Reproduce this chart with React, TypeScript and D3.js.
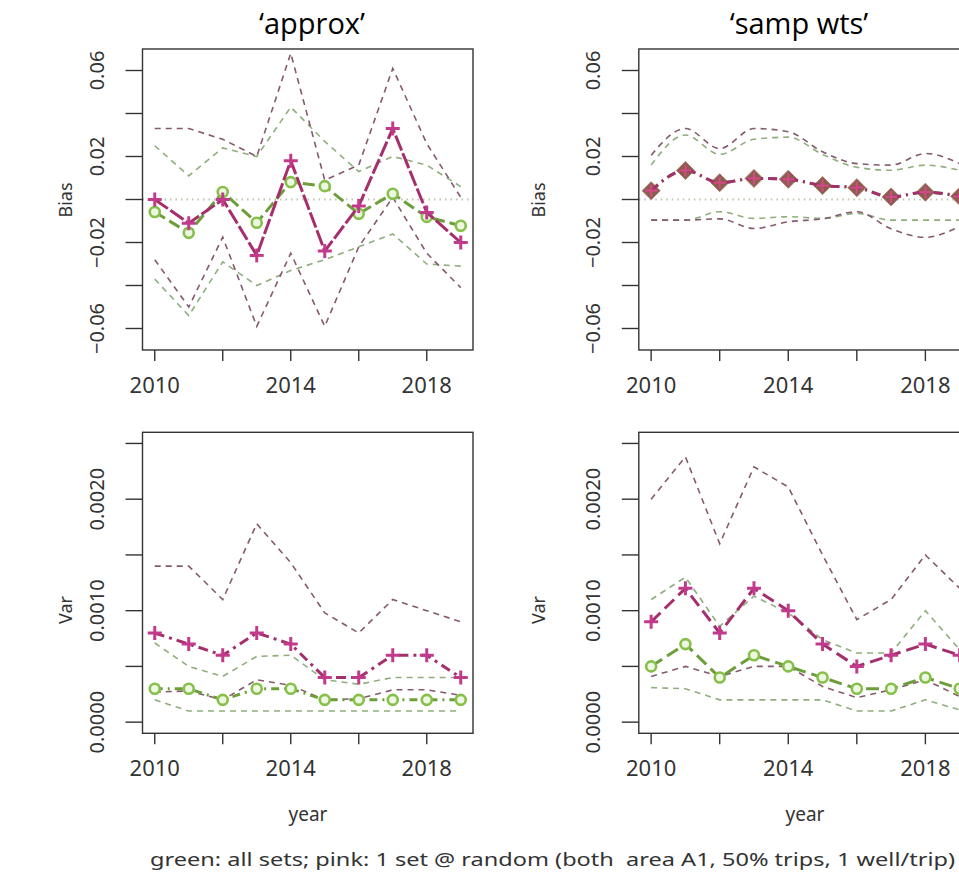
import React from "react";
import * as d3 from "d3";

// ---------- data ----------
const years = [2010, 2011, 2012, 2013, 2014, 2015, 2016, 2017, 2018, 2019];
const xTickYears = [2010, 2012, 2014, 2016, 2018];
const xLabelYears = [2010, 2014, 2018];

const biasTicks = [-0.06, -0.04, -0.02, 0, 0.02, 0.04, 0.06];
const biasLabels = [-0.06, -0.02, 0.02, 0.06];
const varTicks = [0, 0.0005, 0.001, 0.0015, 0.002, 0.0025];
const varLabels = [0, 0.001, 0.002];

const panelTitles = ["\u2018approx\u2019", "\u2018samp wts\u2019"];
const caption = "green: all sets; pink: 1 set @ random (both  area A1, 50% trips, 1 well/trip)";

// Bias, 'approx'
const biasApproxPink = [0.0, -0.011, 0.0, -0.026, 0.018, -0.024, -0.003, 0.033, -0.006, -0.02];
const biasApproxGreen = [-0.0058, -0.0155, 0.0035, -0.0108, 0.0081, 0.0062, -0.0066, 0.0027, -0.0081, -0.0122];
const biasApproxPinkHi = [0.033, 0.033, 0.028, 0.02, 0.068, 0.009, 0.016, 0.061, 0.026, 0.001];
const biasApproxPinkLo = [-0.028, -0.05, -0.0175, -0.059, -0.025, -0.059, -0.022, 0.001, -0.025, -0.041];
const biasApproxGreenHi = [0.025, 0.011, 0.024, 0.02, 0.043, 0.027, 0.013, 0.02, 0.016, 0.006];
const biasApproxGreenLo = [-0.037, -0.054, -0.029, -0.04, -0.033, -0.028, -0.022, -0.016, -0.03, -0.031];

// Bias, 'samp wts'
const biasWtsPink = [0.0041, 0.0135, 0.0078, 0.0098, 0.0094, 0.0065, 0.0055, 0.0012, 0.0034, 0.0015];
const biasWtsGreen = [0.0041, 0.0135, 0.0078, 0.0098, 0.0094, 0.0065, 0.0055, 0.0012, 0.0034, 0.0015];
const biasWtsPinkHi = [0.0206, 0.033, 0.0237, 0.033, 0.0315, 0.0222, 0.0167, 0.016, 0.0214, 0.0167];
const biasWtsPinkLo = [-0.0096, -0.0096, -0.009, -0.0135, -0.0104, -0.009, -0.0057, -0.0136, -0.0176, -0.0125];
const biasWtsGreenHi = [0.016, 0.03, 0.021, 0.028, 0.029, 0.021, 0.015, 0.0136, 0.016, 0.0136];
const biasWtsGreenLo = [-0.0096, -0.0096, -0.0057, -0.0088, -0.008, -0.0088, -0.0065, -0.0096, -0.0096, -0.0096];

// Var, 'approx'
const varApproxPink = [0.0008, 0.0007, 0.0006, 0.0008, 0.0007, 0.0004, 0.0004, 0.0006, 0.0006, 0.0004];
const varApproxGreen = [0.0003, 0.0003, 0.0002, 0.0003, 0.0003, 0.0002, 0.0002, 0.0002, 0.0002, 0.0002];
const varApproxPinkHi = [0.0014, 0.0014, 0.0011, 0.00178, 0.00143, 0.00098, 0.0008, 0.0011, 0.001, 0.0009];
const varApproxPinkLo = [0.00027, 0.00028, 0.0002, 0.00038, 0.00033, 0.0002, 0.00021, 0.00029, 0.00029, 0.00024];
const varApproxGreenHi = [0.00071, 0.0005, 0.00041, 0.00059, 0.0006, 0.00038, 0.00034, 0.0004, 0.0004, 0.0004];
const varApproxGreenLo = [0.0002, 0.0001, 0.0001, 0.0001, 0.0001, 0.0001, 0.0001, 0.0001, 0.0001, 0.0001];

// Var, 'samp wts'
const varWtsPink = [0.0009, 0.0012, 0.0008, 0.0012, 0.001, 0.0007, 0.0005, 0.0006, 0.0007, 0.0006];
const varWtsGreen = [0.0005, 0.0007, 0.0004, 0.0006, 0.0005, 0.0004, 0.0003, 0.0003, 0.0004, 0.0003];
const varWtsPinkHi = [0.002, 0.00238, 0.0016, 0.00229, 0.00211, 0.0015, 0.00092, 0.0011, 0.0015, 0.0012];
const varWtsPinkLo = [0.00041, 0.0005, 0.00041, 0.0005, 0.0005, 0.00032, 0.00022, 0.00029, 0.00038, 0.00023];
const varWtsGreenHi = [0.0011, 0.0013, 0.00086, 0.00113, 0.00098, 0.00074, 0.00062, 0.00062, 0.001, 0.00065];
const varWtsGreenLo = [0.00031, 0.0003, 0.0002, 0.0002, 0.0002, 0.0002, 0.0001, 0.0001, 0.0002, 0.00011];

// ---------- styling ----------
const FONT = "'Noto Sans', 'Liberation Sans', sans-serif";
const TXT = "#333";
const PINK = "#c23a8c";
const PINK_LINE = "#a42f6c";
const GREEN = "#86c04a";
const GREEN_LINE = "#6e9e3c";
const PINK_DASH = "#85596e";
const GREEN_DASH = "#8fae7c";

const fmtBias = (v: number) => (v < 0 ? "\u2212" : "") + Math.abs(v).toFixed(2);
const fmtVar = (v: number) => v.toFixed(4);

type PanelProps = {
  x0: number; x1: number; y0: number; y1: number;
  yDomain: [number, number];
  ticks: number[]; labels: number[]; fmt: (v: number) => string;
  pink: number[]; green: number[];
  pinkHi: number[]; pinkLo: number[]; greenHi: number[]; greenLo: number[];
  zeroLine: boolean;
  pinkDash: string; greenDash: string;
  diamond?: boolean;
  smooth?: boolean;
  id: string;
};

function Panel(p: PanelProps) {
  const x = d3.scaleLinear().domain([2009.64, 2019.36]).range([p.x0, p.x1]);
  const y = d3.scaleLinear().domain(p.yDomain).range([p.y1, p.y0]);
  const line = d3
    .line<number>()
    .x((_, i) => x(years[i]))
    .y((d) => y(d))
    .curve(p.smooth ? d3.curveMonotoneX : d3.curveLinear);
  const clip = `clip-${p.id}`;
  const dm = 9;
  return (
    <g>
      <defs>
        <clipPath id={clip}>
          <rect x={p.x0} y={p.y0} width={p.x1 - p.x0} height={p.y1 - p.y0} />
        </clipPath>
      </defs>
      <g clipPath={`url(#${clip})`}>
        {p.zeroLine && (
          <line x1={p.x0} x2={p.x1} y1={y(0)} y2={y(0)} stroke="#b7c7ae" strokeWidth={1.8} strokeDasharray="1.5,4" />
        )}
        {[p.greenHi, p.greenLo].map((s, k) => (
          <path key={"g" + k} d={line(s) || ""} fill="none" stroke={GREEN_DASH} strokeWidth={1.6} strokeDasharray="6,5" />
        ))}
        {[p.pinkHi, p.pinkLo].map((s, k) => (
          <path key={"p" + k} d={line(s) || ""} fill="none" stroke={PINK_DASH} strokeWidth={1.6} strokeDasharray="6,5" />
        ))}
        <path d={line(p.green) || ""} fill="none" stroke={GREEN_LINE} strokeWidth={3} strokeDasharray={p.greenDash} />
        {p.green.map((v, i) => {
          const cx = x(years[i]);
          const cy = y(v);
          return p.diamond ? (
            <path key={"gd" + i}
              d={`M${cx},${cy - dm}L${cx + dm},${cy}L${cx},${cy + dm}L${cx - dm},${cy}Z`}
              fill="#8a5e4c" stroke="#b07a70" strokeWidth={1} />
          ) : (
            <circle key={"gc" + i} cx={cx} cy={cy} r={5} fill="#eef7e2" stroke={GREEN} strokeWidth={2.6} />
          );
        })}
        <path d={line(p.pink) || ""} fill="none" stroke={PINK_LINE} strokeWidth={3} strokeDasharray={p.pinkDash} />
        {p.pink.map((v, i) => {
          const cx = x(years[i]);
          const cy = y(v);
          const s = p.diamond ? 6 : 7;
          return (
            <g key={"pp" + i} stroke={p.diamond ? "#d04a86" : PINK} strokeWidth={p.diamond ? 2.2 : 3}>
              <line x1={cx - s} x2={cx + s} y1={cy} y2={cy} />
              <line x1={cx} x2={cx} y1={cy - s} y2={cy + s} />
            </g>
          );
        })}
      </g>
      <rect x={p.x0} y={p.y0} width={p.x1 - p.x0} height={p.y1 - p.y0} fill="none" stroke="#333" strokeWidth={1.4} />
      {/* y axis */}
      {p.ticks.map((t) => (
        <line key={"yt" + t} x1={p.x0 - 17} x2={p.x0} y1={y(t)} y2={y(t)} stroke="#333" strokeWidth={1.4} />
      ))}
      {p.labels.map((t) => (
        <text
          key={"yl" + t}
          transform={`translate(${p.x0 - 46},${y(t)}) rotate(-90)`}
          textAnchor="middle"
          dominantBaseline="central"
          fontFamily={FONT}
          fontSize={20}
          fill={TXT}
        >
          {p.fmt(t)}
        </text>
      ))}
      {/* x axis */}
      {xTickYears.map((t) => (
        <line key={"xt" + t} x1={x(t)} x2={x(t)} y1={p.y1} y2={p.y1 + 11} stroke="#333" strokeWidth={1.4} />
      ))}
      {xLabelYears.map((t) => (
        <text key={"xl" + t} x={x(t)} y={p.y1 + 43} textAnchor="middle" fontFamily={FONT} fontSize={22} fill={TXT}>
          {t}
        </text>
      ))}
    </g>
  );
}

export default function App() {
  const leftX: [number, number] = [142.5, 473];
  const rightX: [number, number] = [638.8, 972];
  const topY: [number, number] = [49, 350];
  const botY: [number, number] = [432.3, 733.3];
  return (
    <svg width={959} height={881} style={{ position: "absolute", left: 0, top: 0, background: "#fff" }}>
      <rect width={959} height={881} fill="#fff" />
      <Panel id="tl" x0={leftX[0]} x1={leftX[1]} y0={topY[0]} y1={topY[1]} yDomain={[-0.07, 0.07]}
        ticks={biasTicks} labels={biasLabels} fmt={fmtBias}
        pink={biasApproxPink} green={biasApproxGreen}
        pinkHi={biasApproxPinkHi} pinkLo={biasApproxPinkLo} greenHi={biasApproxGreenHi} greenLo={biasApproxGreenLo}
        zeroLine pinkDash="16,3" greenDash="12,5" />
      <Panel id="tr" x0={rightX[0]} x1={rightX[1]} y0={topY[0]} y1={topY[1]} yDomain={[-0.07, 0.07]}
        ticks={biasTicks} labels={biasLabels} fmt={fmtBias}
        pink={biasWtsPink} green={biasWtsGreen}
        pinkHi={biasWtsPinkHi} pinkLo={biasWtsPinkLo} greenHi={biasWtsGreenHi} greenLo={biasWtsGreenLo}
        zeroLine pinkDash="9,5,2,5" greenDash="9,5,2,5" diamond smooth />
      <Panel id="bl" x0={leftX[0]} x1={leftX[1]} y0={botY[0]} y1={botY[1]} yDomain={[-0.0001, 0.0026]}
        ticks={varTicks} labels={varLabels} fmt={fmtVar}
        pink={varApproxPink} green={varApproxGreen}
        pinkHi={varApproxPinkHi} pinkLo={varApproxPinkLo} greenHi={varApproxGreenHi} greenLo={varApproxGreenLo}
        zeroLine={false} pinkDash="10,5,3,5" greenDash="8,5,2,5" />
      <Panel id="br" x0={rightX[0]} x1={rightX[1]} y0={botY[0]} y1={botY[1]} yDomain={[-0.0001, 0.0026]}
        ticks={varTicks} labels={varLabels} fmt={fmtVar}
        pink={varWtsPink} green={varWtsGreen}
        pinkHi={varWtsPinkHi} pinkLo={varWtsPinkLo} greenHi={varWtsGreenHi} greenLo={varWtsGreenLo}
        zeroLine={false} pinkDash="13,6" greenDash="13,6" />

      {/* titles */}
      <text x={312} y={34} textAnchor="middle" fontFamily="'Open Sans', sans-serif" fontSize={29} fill="#000">{panelTitles[0]}</text>
      <text x={799} y={34} textAnchor="middle" fontFamily="'Open Sans', sans-serif" fontSize={29} fill="#000">{panelTitles[1]}</text>

      {/* axis titles */}
      <text transform="translate(65,200) rotate(-90)" textAnchor="middle" dominantBaseline="central" fontFamily={FONT} fontSize={18} fill={TXT}>Bias</text>
      <text transform="translate(538,200) rotate(-90)" textAnchor="middle" dominantBaseline="central" fontFamily={FONT} fontSize={18} fill={TXT}>Bias</text>
      <text transform="translate(65,610) rotate(-90)" textAnchor="middle" dominantBaseline="central" fontFamily={FONT} fontSize={18} fill={TXT}>Var</text>
      <text transform="translate(538,610) rotate(-90)" textAnchor="middle" dominantBaseline="central" fontFamily={FONT} fontSize={18} fill={TXT}>Var</text>
      <text x={308} y={821} textAnchor="middle" fontFamily={FONT} fontSize={19} fill={TXT}>year</text>
      <text x={805} y={821} textAnchor="middle" fontFamily={FONT} fontSize={19} fill={TXT}>year</text>

      <text x={150} y={866} fontFamily={FONT} fontSize={18} fill={TXT} textLength={805} lengthAdjust="spacingAndGlyphs" style={{ whiteSpace: "pre" }}>
        {caption}
      </text>
    </svg>
  );
}
